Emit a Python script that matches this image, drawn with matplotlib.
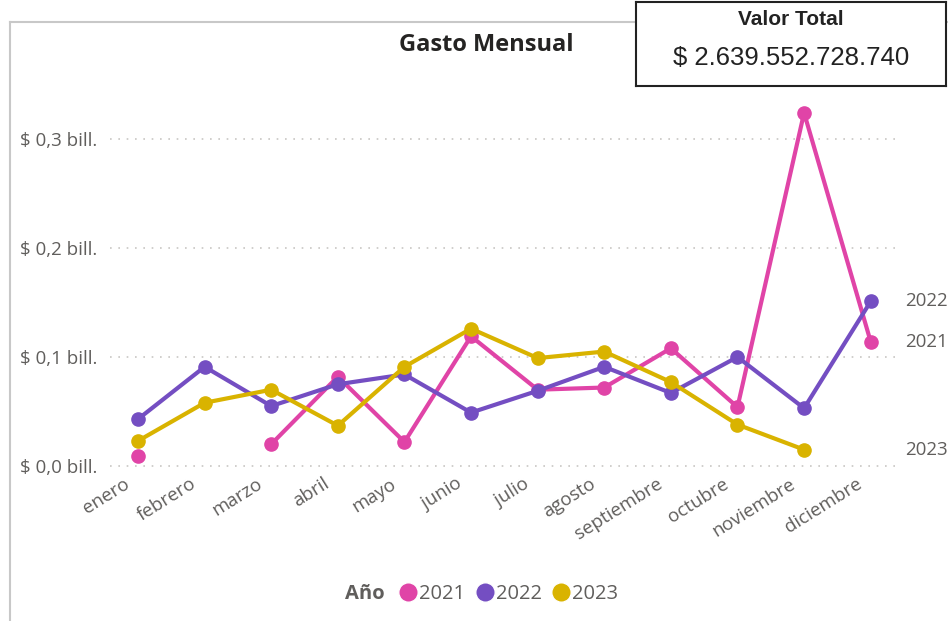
import numpy as np
import matplotlib
matplotlib.use('Agg')
import matplotlib.pyplot as plt
import matplotlib.transforms as mtransforms
from matplotlib.lines import Line2D
from matplotlib.transforms import blended_transform_factory

# datos (billones)
meses = ['enero', 'febrero', 'marzo', 'abril', 'mayo', 'junio', 'julio',
         'agosto', 'septiembre', 'octubre', 'noviembre', 'diciembre']
gasto_2021 = [0.009, np.nan, 0.020, 0.082, 0.022, 0.119, 0.070, 0.072,
              0.108, 0.054, 0.324, 0.114]
gasto_2022 = [0.043, 0.091, 0.055, 0.075, 0.084, 0.049, 0.069, 0.091,
              0.067, 0.100, 0.053, 0.151]
gasto_2023 = [0.023, 0.058, 0.070, 0.037, 0.091, 0.126, 0.099, 0.105,
              0.077, 0.038, 0.015, np.nan]
anios = ['2021', '2022', '2023']
colores = ['#E044A7', '#744EC2', '#D9B300']
yticks = [0.0, 0.1, 0.2, 0.3]
ytick_labels = ['$ 0,0 bill.', '$ 0,1 bill.', '$ 0,2 bill.', '$ 0,3 bill.']
valor_total = '$ 2.639.552.728.740'

plt.rcParams['font.family'] = ['Open Sans', 'DejaVu Sans']

W, H = 948, 621
fig = plt.figure(figsize=(W / 100, H / 100), dpi=100)
fig.patch.set_facecolor('white')

# marco gris exterior (debajo de la tarjeta)
fig.add_artist(Line2D([10 / W, 10 / W], [0, 1 - 22 / H], color='#c8c8c8', lw=1.5, zorder=0))
fig.add_artist(Line2D([10 / W, 1], [1 - 22 / H, 1 - 22 / H], color='#c8c8c8', lw=1.5, zorder=0))

ax_left, ax_right, ax_top, ax_bottom = 110, 900, 100, 480
ax = fig.add_axes([ax_left / W, 1 - ax_bottom / H,
                   (ax_right - ax_left) / W, (ax_bottom - ax_top) / H])
ax.patch.set_alpha(0)
x = np.arange(len(meses))
series = [gasto_2021, gasto_2022, gasto_2023]
for vals, col in zip(series, colores):
    ax.plot(x, vals, color=col, lw=3, marker='o', markersize=9.5, zorder=3)

px_mes = 66.6
ax.set_xlim(-(138 - ax_left) / px_mes, 11 + (ax_right - 870.7) / px_mes)
px_unit = 1090.0
ax.set_ylim(-(ax_bottom - 466) / px_unit, 0.3 + (139 - ax_top) / px_unit)
ax.set_yticks(yticks)
ax.set_yticklabels(ytick_labels)
ax.set_xticks(x)
ax.set_xticklabels(meses, rotation=32, ha='right', rotation_mode='anchor')
ax.tick_params(axis='both', length=0, colors='#605E5C', labelsize=13.5)
ax.tick_params(axis='y', pad=9)
ax.tick_params(axis='x', pad=2)
offset = mtransforms.ScaledTranslation(-15 / 100, 8 / 100, fig.dpi_scale_trans)
for lbl in ax.get_xticklabels():
    lbl.set_transform(lbl.get_transform() + offset)
ax.grid(axis='y', color='#c8c6c4', linestyle=(0, (1, 4)), lw=1.2)
for s in ax.spines.values():
    s.set_visible(False)

# etiquetas de serie a la derecha
tr = blended_transform_factory(ax.transAxes, ax.transData)
for vals, nombre in zip(series, anios):
    ult = [v for v in vals if not np.isnan(v)][-1]
    ax.text(1 + 5 / (ax_right - ax_left), ult, nombre, transform=tr,
            ha='left', va='center', fontsize=13.5, color='#605E5C', clip_on=False)

fig.text(486 / W, 1 - 45 / H, 'Gasto Mensual', ha='center', va='center',
         fontsize=17, fontweight='bold', color='#252423')

# leyenda
fig.text(365 / W, 1 - 594 / H, 'Año', ha='center', va='center',
         fontsize=14.5, fontweight='bold', color='#605E5C')
handles = [Line2D([0], [0], marker='o', color='w', markerfacecolor=c,
                  markersize=14, label=a) for c, a in zip(colores, anios)]
fig.legend(handles=handles, loc='center left', bbox_to_anchor=(381 / W, 1 - 594 / H),
           ncol=3, frameon=False, fontsize=14.5, handlelength=0.9,
           handletextpad=0.1, columnspacing=0.5, labelcolor='#605E5C')

# tarjeta Valor Total
card = fig.add_axes([636 / W, 1 - 86 / H, 310 / W, 84 / H])
card.set_zorder(5)
card.set_xticks([])
card.set_yticks([])
card.set_facecolor('white')
for s in card.spines.values():
    s.set_linewidth(1.5)
    s.set_color('#222222')
card.text(0.5, 0.726, 'Valor Total', ha='center', va='baseline', fontsize=15,
          fontweight='bold', family='Liberation Sans', color='#222222')
card.text(0.5, 0.25, valor_total, ha='center', va='baseline', fontsize=18.5,
          family='Liberation Sans', color='#222222')

fig.savefig('out.png', dpi=100)
